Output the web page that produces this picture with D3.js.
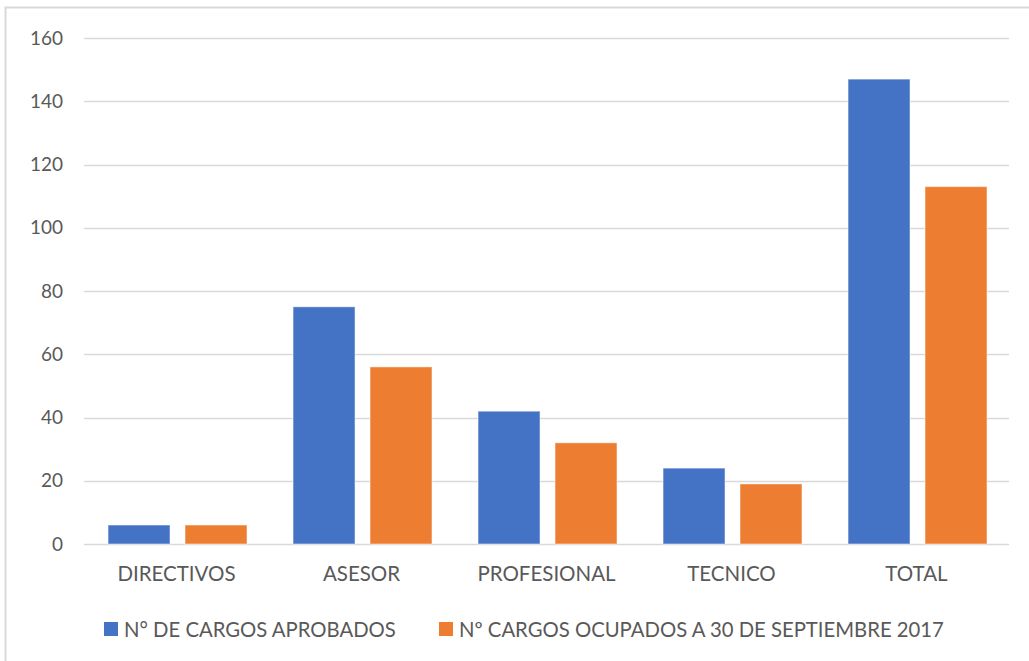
<!DOCTYPE html>
<html><head><meta charset="utf-8">
<script src="https://cdn.jsdelivr.net/npm/d3@7"></script>
<style>body{margin:0;background:#fff}svg{display:block}text{font-family:Lato,"Open Sans",sans-serif;fill:#595959}</style>
</head><body>
<script>
const categories = ["DIRECTIVOS","ASESOR","PROFESIONAL","TECNICO","TOTAL"];
const seriesNames = ["N° DE CARGOS APROBADOS","Nº CARGOS OCUPADOS A 30 DE SEPTIEMBRE 2017"];
const aprobados = [6,75,42,24,147];
const ocupados = [6,56,32,19,113];
const yTicks = [0,20,40,60,80,100,120,140,160];
const colors = ["#4472C4","#ED7D31"];

(function(){
const W=1029,H=661;
const svg=d3.select("body").append("svg").attr("width",W).attr("height",H);
svg.append("rect").attr("x",5.5).attr("y",7.5).attr("width",W+10).attr("height",H+10)
  .attr("fill","#fff").attr("stroke","#d9d9d9").attr("stroke-width",2);

const pLeft=84,pRight=1009,pTop=38,pBottom=544;
const x=d3.scaleBand().domain(categories).range([pLeft,pRight]).padding(0);
const step=x.step();
const x1=d3.scaleBand().domain([0,1]).range([step*0.13,step*0.881]).paddingInner(0.195);
const y=d3.scaleLinear().domain([0,160]).range([pBottom,pTop]);

const grid=svg.append("g");
grid.selectAll("line").data(yTicks).join("line")
  .attr("x1",pLeft).attr("x2",pRight).attr("y1",d=>Math.round(y(d))+0.5).attr("y2",d=>Math.round(y(d))+0.5)
  .attr("stroke","#d9d9d9").attr("stroke-width",1.3);

const yAxis=d3.axisLeft(y).tickValues(yTicks).tickSize(0).tickPadding(0);
const ga=svg.append("g").attr("transform",`translate(${pLeft-21},0)`).call(yAxis);
ga.select(".domain").remove();
ga.selectAll("text").attr("font-size",19).attr("font-family","Lato, sans-serif").attr("fill","#595959");

const data=categories.map((c,i)=>({c,v:[aprobados[i],ocupados[i]]}));
const groups=svg.append("g").selectAll("g").data(data).join("g").attr("transform",d=>`translate(${x(d.c)},0)`);
groups.selectAll("rect").data(d=>d.v.map((v,k)=>({v,k}))).join("rect")
  .attr("x",d=>x1(d.k)).attr("width",x1.bandwidth())
  .attr("y",d=>y(d.v)).attr("height",d=>y(0)-y(d.v))
  .attr("fill",d=>colors[d.k]).attr("stroke","rgba(255,255,255,0.5)").attr("stroke-width",1);

const xAxis=d3.axisBottom(x).tickSize(0).tickPadding(0);
const gx=svg.append("g").attr("transform",`translate(0,${pBottom+22})`).call(xAxis);
gx.select(".domain").remove();
gx.selectAll("text").attr("font-size",20.5).attr("font-family","Lato, sans-serif").attr("fill","#595959");

const leg=svg.append("g");
const legX=[104,439];
seriesNames.forEach((n,i)=>{
  leg.append("rect").attr("x",legX[i]).attr("y",622).attr("width",14).attr("height",14).attr("fill",colors[i]);
  leg.append("text").attr("x",legX[i]+20).attr("y",636.5).attr("font-size",20.3).text(n);
});
})();
</script>
</body></html>
